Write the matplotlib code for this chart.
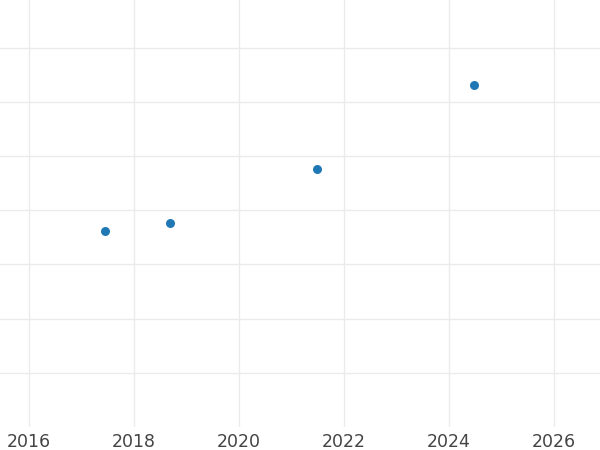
import matplotlib
matplotlib.use("Agg")
import matplotlib.pyplot as plt

# data (x in decimal years, y in grid units)
years = [2017.45, 2018.69, 2021.49, 2024.48]
values = [3.62, 3.76, 4.76, 6.31]

x_ticks = [2016, 2018, 2020, 2022, 2024, 2026]
y_grid = [1, 2, 3, 4, 5, 6, 7]

fig = plt.figure(figsize=(6, 4.5), dpi=100)
ax = fig.add_axes([0, 0.051, 1, 0.949])

ax.scatter(years, values, s=42, color="#1f77b4", zorder=3, linewidths=0)

ax.set_xlim(2015.448, 2026.876)
ax.set_ylim(0, 7.88)
ax.set_xticks(x_ticks)
ax.set_xticklabels([str(t) for t in x_ticks])
ax.set_yticks(y_grid)
ax.set_yticklabels([])

ax.grid(True, color="#ebebeb", linewidth=1.0)
ax.set_axisbelow(True)
ax.tick_params(axis="both", length=0)
ax.tick_params(axis="x", labelsize=12.5, labelcolor="#444444", pad=4)
for side in ax.spines.values():
    side.set_visible(False)

fig.savefig("out.png", dpi=100)
